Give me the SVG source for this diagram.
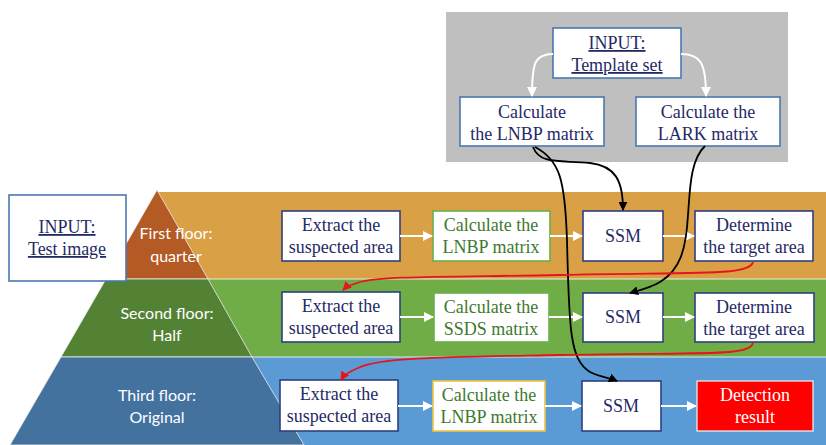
<svg xmlns="http://www.w3.org/2000/svg" width="826" height="445" viewBox="0 0 826 445">
<style>
.box{fill:#fff;stroke:#2F3F80;stroke-width:1.6}
.tbox{fill:#fff;stroke:#4A78B0;stroke-width:1.6}
.t{font-family:"Liberation Serif","Times New Roman",serif;font-size:18px;fill:#1F2A66;text-anchor:middle}
.g{fill:#3E7A2E}
.w{fill:#fff}
.p{font-family:Lato,"Liberation Sans",sans-serif;font-size:16px;fill:#fff;text-anchor:middle}
.wa{fill:none;stroke:#fff;stroke-width:2}
.ba{fill:none;stroke:#000;stroke-width:1.8}
.ra{fill:none;stroke:#E8141C;stroke-width:1.8}
</style>
<defs>
<marker id="mw" viewBox="0 0 10 10" refX="9" refY="5" markerWidth="5" markerHeight="5" orient="auto" markerUnits="strokeWidth"><path d="M0,0L10,5L0,10z" fill="#fff"/></marker>
<marker id="mb" viewBox="0 0 10 10" refX="9" refY="5" markerWidth="5" markerHeight="5" orient="auto" markerUnits="strokeWidth"><path d="M0,0L10,5L0,10z" fill="#000"/></marker>
<marker id="mr" viewBox="0 0 10 10" refX="9" refY="5" markerWidth="5" markerHeight="5" orient="auto" markerUnits="strokeWidth"><path d="M0,0L10,5L0,10z" fill="#E8141C"/></marker>
</defs>
<rect width="826" height="445" fill="#fff"/>
<rect x="446" y="12" width="342" height="150" fill="#BFBFBF"/>
<g id="bands">
<rect x="157" y="192" width="669" height="87" fill="#D9A046"/>
<rect x="157" y="279" width="669" height="78" fill="#70AD47"/>
<rect x="157" y="357" width="669" height="88" fill="#5B9BD5"/>
<line x1="157" y1="279" x2="826" y2="279" stroke="#E9EDE0" stroke-width="1"/>
<line x1="157" y1="357" x2="826" y2="357" stroke="#E0EAF0" stroke-width="1"/>
</g>
<g id="pyramid">
<polygon points="157,190 106,279 208,279" fill="#B45A24" stroke="#EEE" stroke-width="0.8"/>
<polygon points="106,279 61,357 252,357 208,279" fill="#548235" stroke="#EEE" stroke-width="0.8"/>
<polygon points="61,357 10,445 304,445 252,357" fill="#44729F" stroke="#EEE" stroke-width="0.8"/>
<text class="p" x="176" y="239">First floor:</text>
<text class="p" x="176" y="262">quarter</text>
<text class="p" x="167" y="319">Second floor:</text>
<text class="p" x="167" y="341">Half</text>
<text class="p" x="157" y="401">Third floor:</text>
<text class="p" x="157" y="423">Original</text>
</g>
<g id="input-test">
<rect class="tbox" x="9" y="195" width="117" height="86"/>
<text class="t" x="67" y="233" text-decoration="underline">INPUT:</text>
<text class="t" x="67" y="255" text-decoration="underline">Test image</text>
</g>
<g id="input-template">
<rect class="tbox" x="553" y="28" width="128" height="50"/>
<text class="t" x="617" y="49" text-decoration="underline">INPUT:</text>
<text class="t" x="617" y="71" text-decoration="underline">Template set</text>
</g>
<g id="calc-lnbp-t">
<rect class="tbox" x="460" y="97" width="144" height="49"/>
<text class="t" x="532" y="118">Calculate</text>
<text class="t" x="532" y="140">the LNBP matrix</text>
</g>
<g id="calc-lark">
<rect class="tbox" x="636" y="97" width="144" height="49"/>
<text class="t" x="708" y="118">Calculate the</text>
<text class="t" x="708" y="140">LARK matrix</text>
</g>
<g id="extract1">
<rect class="box" x="282" y="211" width="118" height="50"/>
<text class="t" x="341" y="231">Extract the</text>
<text class="t" x="341" y="253">suspected area</text>
</g>
<g id="calc1">
<rect x="433" y="211" width="117" height="50" fill="#fff" stroke="#6BB04A" stroke-width="1.6"/>
<text class="t g" x="491" y="231">Calculate the</text>
<text class="t g" x="491" y="253">LNBP matrix</text>
</g>
<g id="ssm1">
<rect class="box" x="583" y="211" width="80" height="50"/>
<text class="t" x="623" y="242">SSM</text>
</g>
<g id="det1">
<rect class="box" x="695" y="211" width="118" height="50"/>
<text class="t" x="754" y="231">Determine</text>
<text class="t" x="754" y="253">the target area</text>
</g>
<g id="extract2">
<rect class="box" x="282" y="292" width="118" height="50"/>
<text class="t" x="341" y="312">Extract the</text>
<text class="t" x="341" y="334">suspected area</text>
</g>
<g id="calc2">
<rect x="434" y="293" width="115" height="49" fill="#fff" stroke="#6BB04A" stroke-width="1.6"/>
<text class="t g" x="491" y="313">Calculate the</text>
<text class="t g" x="491" y="335">SSDS matrix</text>
</g>
<g id="ssm2">
<rect class="box" x="583" y="293" width="80" height="49"/>
<text class="t" x="623" y="323">SSM</text>
</g>
<g id="det2">
<rect class="box" x="695" y="293" width="119" height="49"/>
<text class="t" x="754" y="313">Determine</text>
<text class="t" x="754" y="335">the target area</text>
</g>
<g id="extract3">
<rect class="box" x="280" y="380" width="118" height="51"/>
<text class="t" x="339" y="400">Extract the</text>
<text class="t" x="339" y="422">suspected area</text>
</g>
<g id="calc3">
<rect x="433" y="381" width="112" height="50" fill="#fff" stroke="#F2C343" stroke-width="1.6"/>
<text class="t g" x="489" y="401">Calculate the</text>
<text class="t g" x="489" y="423">LNBP matrix</text>
</g>
<g id="ssm3">
<rect class="box" x="582" y="381" width="79" height="50"/>
<text class="t" x="621" y="412">SSM</text>
</g>
<g id="result">
<rect x="697" y="381" width="116" height="50" fill="#FF0000" stroke="#F4F4F4" stroke-width="1.2"/>
<text class="t w" x="755" y="401">Detection</text>
<text class="t w" x="755" y="423">result</text>
</g>
<g id="connectors">
<path class="wa" d="M553,54 C535,54 532,62 532,96" marker-end="url(#mw)"/>
<path class="wa" d="M681,54 C700,54 706,62 706,96" marker-end="url(#mw)"/>
<path class="wa" d="M400,236 L432,236" marker-end="url(#mw)"/>
<path class="wa" d="M550,236 L582,236" marker-end="url(#mw)"/>
<path class="wa" d="M663,236 L694,236" marker-end="url(#mw)"/>
<path class="wa" d="M400,317 L433,317" marker-end="url(#mw)"/>
<path class="wa" d="M549,317 L582,317" marker-end="url(#mw)"/>
<path class="wa" d="M663,317 L694,317" marker-end="url(#mw)"/>
<path class="wa" d="M398,406 L432,406" marker-end="url(#mw)"/>
<path class="wa" d="M545,406 L581,406" marker-end="url(#mw)"/>
<path class="wa" d="M661,406 L696,406" marker-end="url(#mw)"/>
<path class="ba" d="M533,147 C540,165 560,160 590,163 C615,166 623,180 623,210" marker-end="url(#mb)"/>
<path class="ba" d="M535,147 C560,160 565,180 567,240 C569,330 570,360 590,372 C600,377 610,378 617,381" marker-end="url(#mb)"/>
<path class="ba" d="M705,146 C690,160 690,190 688,215 C686,250 680,270 660,282 C650,288 640,290 630,293" marker-end="url(#mb)"/>
<path class="ra" d="M753,262 C750,276 700,272 560,275 C450,277 380,276 360,282 C350,285 346,287 343,290" marker-end="url(#mr)"/>
<path class="ra" d="M753,343 C750,357 700,352 560,355 C450,357 380,357 358,368 C348,372 344,375 341,380" marker-end="url(#mr)"/>
</g>
</svg>
